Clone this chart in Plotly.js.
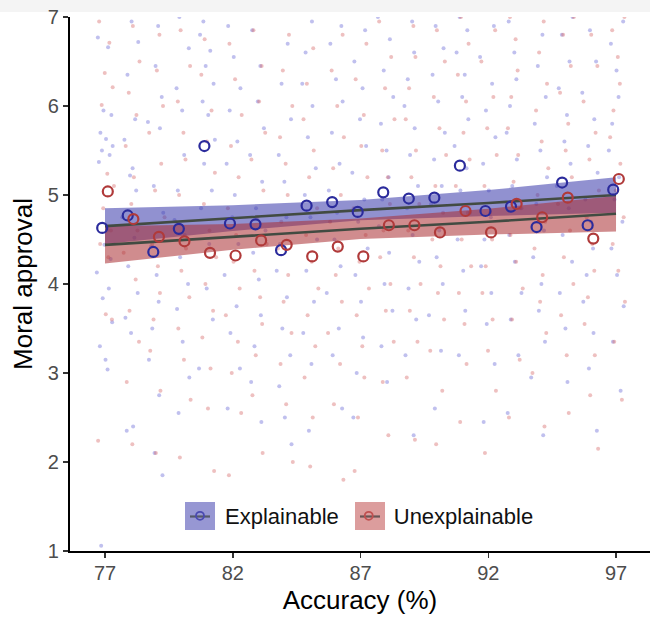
<!DOCTYPE html>
<html>
<head>
<meta charset="utf-8">
<script src="https://cdn.plot.ly/plotly-3.0.1.min.js"></script>
<style>html,body{margin:0;padding:0;background:#fff;}#chart{width:650px;height:619px;}</style>
</head>
<body>
<div id="chart"></div>
<script>
// ---- Data ----
const accuracy = [77,78,79,80,81,82,83,84,85,86,87,88,89,90,91,92,93,94,95,96,97];

// Condition means (open circles)
const explainableMean   = [4.63,4.77,4.36,4.62,5.55,4.68,4.67,4.38,4.88,4.92,4.81,5.03,4.96,4.97,5.33,4.82,4.87,4.64,5.14,4.66,5.06];
const unexplainableMean = [5.04,4.73,4.53,4.48,4.35,4.32,4.49,4.44,4.31,4.42,4.31,4.66,4.66,4.58,4.82,4.58,4.90,4.75,4.97,4.51,5.18];

// Linear fit and 95% band (read at selected accuracy values)
const fitX = [77,82,87,92,97];
const explainableFit   = [4.65,4.74,4.83,4.91,5.00];
const explainableLo    = [4.45,4.595,4.715,4.765,4.80];
const explainableHi    = [4.85,4.885,4.945,5.055,5.20];
const unexplainableFit = [4.44,4.53,4.62,4.70,4.79];
const unexplainableLo  = [4.23,4.385,4.505,4.555,4.59];
const unexplainableHi  = [4.65,4.675,4.735,4.845,4.99];

// Individual ratings (faint jittered dots), one list per accuracy level
const explainableRaw = [
 [6.77,6.66,5.95,5.9,5.7,5.63,5.55,5.5,5.45,5.37,4.6,4.44,4.28,4.13,3.95,3.84,3.57,3.3,3.15,3.04,1.06],
 [6.95,6.72,6.35,5.85,5.62,5.3,5.22,5.05,4.75,4.52,4.2,3.9,3.62,3.45,2.4,2.35],
 [6.9,6.45,6.1,5.82,5.75,5.1,4.8,4.42,4.1,3.8,3.5,3.15,2.75,2.1,1.85],
 [7.0,6.65,6.2,5.95,5.45,5.05,4.72,4.55,4.3,4.0,3.72,3.35,2.95,2.55],
 [6.95,6.8,6.62,6.45,6.25,6.05,5.9,5.62,5.35,5.05,4.85,4.45,3.95,3.6,3.05],
 [6.9,6.55,6.2,5.95,5.6,5.35,5.0,4.75,4.45,4.1,3.75,3.45,3.05,2.6],
 [6.85,6.45,6.05,5.75,5.45,5.15,4.85,4.6,4.35,4.05,3.65,3.3,2.9,2.45],
 [6.7,6.25,5.85,5.45,5.15,4.75,4.45,4.15,3.85,3.5,3.2,2.85,2.5,2.2],
 [6.95,6.6,6.25,6.0,5.65,5.3,5.0,4.75,4.5,4.15,3.8,3.45,3.1,2.35],
 [6.9,6.7,6.3,6.05,5.7,5.35,5.05,4.8,4.5,4.2,3.9,3.5,3.2,2.6],
 [6.85,6.5,6.2,5.85,5.55,5.25,4.95,4.7,4.4,4.1,3.8,3.4,3.0,2.5],
 [7.0,6.75,6.4,6.1,5.8,5.5,5.2,4.95,4.65,4.35,4.0,3.7,3.3,2.9],
 [6.95,6.6,6.3,6.0,5.75,5.45,5.1,4.85,4.55,4.25,3.95,3.6,3.2,2.3],
 [6.9,6.65,6.35,6.05,5.7,5.4,5.1,4.9,4.6,4.3,4.0,3.65,3.25,2.6],
 [7.0,6.85,6.6,6.35,6.1,5.85,5.55,5.3,5.05,4.8,4.5,4.15,3.7,3.2],
 [6.9,6.55,6.25,5.95,5.65,5.35,5.05,4.75,4.5,4.2,3.9,3.55,3.1,2.45],
 [6.95,6.6,6.3,6.0,5.7,5.4,5.1,4.85,4.55,4.25,3.9,3.6,3.2,2.55],
 [6.8,6.45,6.1,5.8,5.5,5.2,4.9,4.6,4.3,4.0,3.7,3.35,2.95,2.3],
 [7.0,6.8,6.5,6.2,5.9,5.6,5.35,5.1,4.85,4.55,4.25,3.9,3.5,2.9],
 [6.85,6.5,6.15,5.85,5.55,5.25,4.95,4.7,4.4,4.1,3.8,3.45,3.05,2.35],
 [6.95,6.7,6.4,6.1,5.8,5.5,5.2,4.95,4.7,4.4,4.1,3.75,3.35,2.8]
];
const unexplainableRaw = [
 [6.95,6.71,6.37,6.21,6.01,5.24,5.1,4.85,4.6,4.45,4.3,3.66,3.6,2.24],
 [6.9,6.5,6.15,5.9,5.55,5.2,4.9,4.6,4.35,4.05,3.7,3.35,2.9,2.2],
 [6.8,6.4,6.0,5.7,5.35,5.05,4.75,4.45,4.2,3.9,3.6,3.25,2.8,2.1],
 [6.85,6.45,6.05,5.7,5.4,5.0,4.7,4.4,4.15,3.85,3.5,3.15,2.7,2.05],
 [6.75,6.35,5.95,5.6,5.25,4.9,4.6,4.3,4.0,3.7,3.4,3.05,2.6,1.9],
 [6.7,6.3,5.9,5.55,5.2,4.85,4.55,4.25,3.95,3.65,3.35,3.0,2.55,1.85],
 [6.85,6.45,6.05,5.7,5.4,5.05,4.75,4.45,4.15,3.85,3.55,3.2,2.75,2.1],
 [6.8,6.4,6.0,5.65,5.35,5.0,4.7,4.4,4.1,3.8,3.45,3.1,2.65,2.0],
 [6.65,6.25,5.85,5.5,5.2,4.85,4.55,4.25,3.95,3.65,3.3,2.95,2.5,1.95],
 [6.8,6.4,6.0,5.65,5.3,5.0,4.7,4.4,4.1,3.8,3.45,3.1,2.65,1.8],
 [6.7,6.3,5.9,5.55,5.2,4.85,4.55,4.25,3.95,3.65,3.3,2.95,2.5,1.9],
 [6.95,6.55,6.2,5.85,5.5,5.2,4.9,4.6,4.3,4.0,3.7,3.35,2.9,2.3],
 [6.9,6.55,6.2,5.85,5.5,5.2,4.9,4.6,4.3,4.0,3.7,3.35,2.95,2.25],
 [6.85,6.5,6.1,5.75,5.45,5.1,4.8,4.5,4.2,3.9,3.6,3.25,2.8,2.2],
 [7.0,6.7,6.35,6.05,5.7,5.4,5.1,4.8,4.5,4.2,3.9,3.55,3.1,2.45],
 [6.85,6.5,6.1,5.75,5.45,5.1,4.8,4.5,4.2,3.9,3.6,3.25,2.8,2.1],
 [7.0,6.75,6.4,6.1,5.75,5.45,5.15,4.85,4.55,4.25,3.95,3.6,3.15,2.5],
 [6.95,6.6,6.25,5.95,5.6,5.3,5.0,4.7,4.4,4.1,3.8,3.45,3.0,2.4],
 [7.0,6.8,6.45,6.15,5.8,5.5,5.2,4.9,4.6,4.3,4.0,3.65,3.2,2.55],
 [6.8,6.45,6.05,5.7,5.4,5.05,4.75,4.45,4.15,3.85,3.55,3.2,2.75,2.15],
 [7.0,6.85,6.55,6.25,5.95,5.65,5.35,5.05,4.75,4.45,4.15,3.8,3.35,2.7]
];
const legendNames = ["Explainable","Unexplainable"];
const tickValues = [77,82,87,92,97];

// ---- Styling / position helpers (not data) ----
const jitterOffsets = [-0.28,0.12,-0.06,0.25,-0.18,0.04,0.3,-0.12,0.18,-0.24,0.08,-0.02,0.22,-0.32,0.15,-0.09,0.28,-0.2,0.02,0.1,-0.15];
const dodge = 0.11;
const blueDot = 'rgba(105,105,215,0.42)';
const redDot = 'rgba(215,105,105,0.42)';
const blueFill = 'rgba(55,55,170,0.55)';
const redFill = 'rgba(170,45,50,0.55)';
const blueKey = 'rgba(55,55,170,0.52)';
const redKey = 'rgba(185,60,60,0.5)';
const blueLine = '#2b2b9c';
const redLine = '#b03a3a';
const fitColor = '#424b42';

function rawXY(raw, shift) {
  const xs = [], ys = [];
  raw.forEach((vals, i) => {
    vals.forEach((v, j) => {
      xs.push(accuracy[i] + jitterOffsets[(j + i * 5) % jitterOffsets.length] + shift);
      ys.push(v);
    });
  });
  return {xs, ys};
}
const bRaw = rawXY(explainableRaw, 0.0);
const rRaw = rawXY(unexplainableRaw, 0.05);

const traces = [
  {x: bRaw.xs, y: bRaw.ys, type: 'scatter', mode: 'markers', marker: {size: 4, color: blueDot}, showlegend: false, hoverinfo: 'skip'},
  {x: rRaw.xs, y: rRaw.ys, type: 'scatter', mode: 'markers', marker: {size: 4, color: redDot}, showlegend: false, hoverinfo: 'skip'},
  // bands
  {x: fitX, y: explainableLo, type: 'scatter', mode: 'lines', line: {width: 0, color: blueFill}, showlegend: false, hoverinfo: 'skip'},
  {x: fitX, y: explainableHi, type: 'scatter', mode: 'lines', line: {width: 0, color: blueFill}, fill: 'tonexty', fillcolor: blueFill, showlegend: false, hoverinfo: 'skip'},
  {x: fitX, y: unexplainableLo, type: 'scatter', mode: 'lines', line: {width: 0, color: redFill}, showlegend: false, hoverinfo: 'skip'},
  {x: fitX, y: unexplainableHi, type: 'scatter', mode: 'lines', line: {width: 0, color: redFill}, fill: 'tonexty', fillcolor: redFill, showlegend: false, hoverinfo: 'skip'},
  // fit lines
  {x: fitX, y: explainableFit, type: 'scatter', mode: 'lines', line: {width: 2.6, color: fitColor}, showlegend: false},
  {x: fitX, y: unexplainableFit, type: 'scatter', mode: 'lines', line: {width: 2.6, color: fitColor}, showlegend: false},
  // means
  {x: accuracy.map(a => a - dodge), y: explainableMean, type: 'scatter', mode: 'markers', marker: {symbol: 'circle-open', size: 10, color: blueLine, line: {width: 2.2, color: blueLine}}, showlegend: false},
  {x: accuracy.map(a => a + dodge), y: unexplainableMean, type: 'scatter', mode: 'markers', marker: {symbol: 'circle-open', size: 10, color: redLine, line: {width: 2.2, color: redLine}}, showlegend: false},
  // legend entries
  {x: [null], y: [null], type: 'scatter', mode: 'markers', name: legendNames[0], marker: {symbol: 'circle-open', size: 8, color: '#4a4ab0', line: {width: 1.8, color: '#4a4ab0'}}},
  {x: [null], y: [null], type: 'scatter', mode: 'markers', name: legendNames[1], marker: {symbol: 'circle-open', size: 8, color: '#c05050', line: {width: 1.8, color: '#c05050'}}}
];

function px2x(p) { return (p - 70) / 580; }
function px2y(p) { return (551 - p) / 534; }

const layout = {
  width: 650, height: 619,
  margin: {l: 70, r: 0, t: 17, b: 68, pad: 0},
  paper_bgcolor: '#ffffff', plot_bgcolor: '#ffffff',
  font: {family: 'Liberation Sans, Arial, sans-serif', color: '#000'},
  showlegend: true,
  legend: {orientation: 'h', x: px2x(175), xanchor: 'left', y: px2y(516), yanchor: 'middle',
           bgcolor: 'rgba(0,0,0,0)', font: {size: 22, color: '#111'}, itemwidth: 40,
           traceorder: 'normal'},
  xaxis: {range: [75.63, 98.33], tickvals: tickValues, ticktext: tickValues.map(String),
          ticks: 'outside', ticklen: 5, tickwidth: 1.5, tickcolor: '#333', ticklabelstandoff: -2,
          showline: true, linecolor: '#000', linewidth: 2.2, showgrid: false, zeroline: false,
          tickfont: {size: 20, color: '#4d4d4d'},
          title: {text: 'Accuracy (%)', font: {size: 26, color: '#000'}, standoff: 8}},
  yaxis: {range: [1, 7], tickvals: [1,2,3,4,5,6,7], ticks: 'outside', ticklen: 5, tickwidth: 1.5, tickcolor: '#333',
          showline: true, linecolor: '#000', linewidth: 2.2, showgrid: false, zeroline: false,
          tickfont: {size: 20, color: '#4d4d4d'},
          title: {text: 'Moral approval', font: {size: 26, color: '#000'}, standoff: 8}},
  shapes: [
    {type: 'rect', xref: 'paper', yref: 'paper', x0: px2x(0), x1: px2x(650), y0: px2y(12), y1: px2y(0), fillcolor: '#f4f4f4', line: {width: 0}, layer: 'below'},
    {type: 'rect', xref: 'paper', yref: 'paper', x0: px2x(176), x1: px2x(546), y0: px2y(535), y1: px2y(497), fillcolor: '#ffffff', line: {width: 0}, layer: 'above'},
    {type: 'rect', xref: 'paper', yref: 'paper', x0: px2x(185), x1: px2x(215), y0: px2y(530), y1: px2y(502), fillcolor: blueKey, line: {width: 0}, layer: 'above'},
    {type: 'rect', xref: 'paper', yref: 'paper', x0: px2x(355), x1: px2x(385), y0: px2y(530), y1: px2y(502), fillcolor: redKey, line: {width: 0}, layer: 'above'},
    {type: 'line', xref: 'paper', yref: 'paper', x0: px2x(190), x1: px2x(210), y0: px2y(516.5), y1: px2y(516.5), line: {width: 2.2, color: '#555a6a'}, layer: 'above'},
    {type: 'line', xref: 'paper', yref: 'paper', x0: px2x(360), x1: px2x(380), y0: px2y(516.5), y1: px2y(516.5), line: {width: 2.2, color: '#6a5555'}, layer: 'above'}
  ]
};

Plotly.newPlot('chart', traces, layout, {displayModeBar: false, staticPlot: true});
</script>
</body>
</html>
